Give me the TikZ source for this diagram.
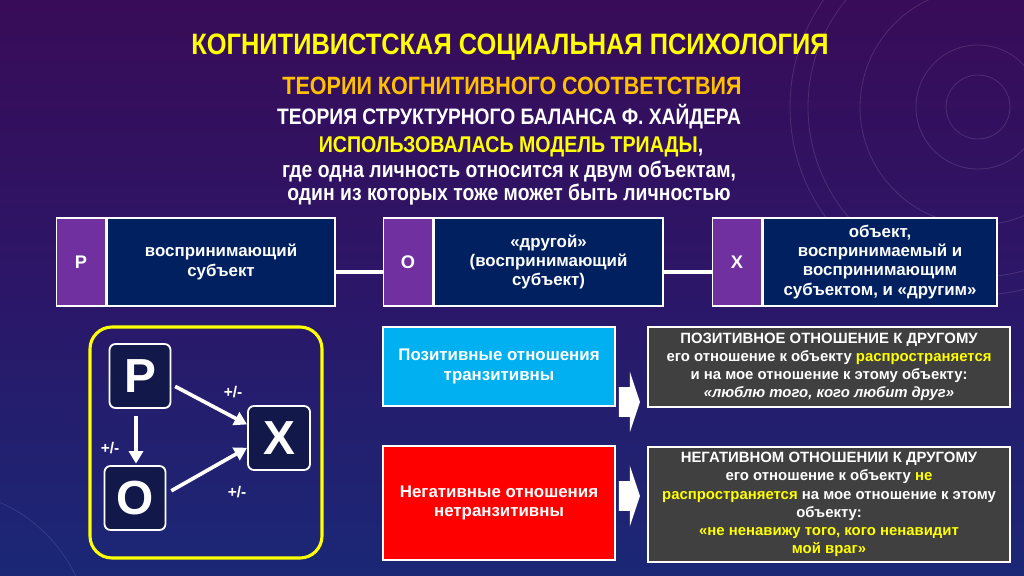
\documentclass[tikz,border=0pt]{standalone}
\usepackage{fontspec}
\setmainfont{Liberation Sans}
\newfontfamily\narrowsans[FakeStretch=0.86]{Liberation Sans}
\usetikzlibrary{positioning,arrows.meta,shapes.arrows}

\definecolor{titleyellow}{RGB}{255,255,0}
\definecolor{subyellow}{RGB}{255,192,0}
\definecolor{cellpurple}{RGB}{112,48,160}
\definecolor{cellnavy}{RGB}{0,32,96}
\definecolor{tricolor}{RGB}{18,24,74}
\definecolor{posblue}{RGB}{0,176,240}
\definecolor{negred}{RGB}{255,0,0}
\definecolor{notegray}{RGB}{64,64,64}
\definecolor{bgtop}{RGB}{56,12,88}
\definecolor{bgmid}{RGB}{44,22,104}
\definecolor{bgbottom}{RGB}{26,40,118}
\newcommand{\pxu}{0.025cm}

\begin{document}
\begin{tikzpicture}[x=0.025cm,y=-0.025cm,
	cell/.style={draw=white, line width=1.1pt, text=white, align=center, inner sep=2pt,
		font=\bfseries\fontsize{12}{13.6}\selectfont},
	lettercell/.style={cell, fill=cellpurple, minimum width=49*\pxu, minimum height=88*\pxu,
		font=\bfseries\fontsize{13}{15}\selectfont},
	textcell/.style={cell, fill=cellnavy, minimum height=88*\pxu, anchor=west},
	link/.style={white, line width=3pt},
	tribox/.style={draw=white, line width=1.3pt, fill=tricolor, rounded corners=0.15cm,
		text=white, inner sep=0pt, minimum width=61*\pxu, minimum height=64*\pxu,
		font=\bfseries\fontsize{34}{34}\selectfont},
	pm/.style={white, line width=2.6pt, -{Triangle[length=9pt,width=10pt]}},
	sign/.style={text=white, font=\bfseries\fontsize{11}{13}\selectfont},
	rel/.style={draw=white, line width=1.1pt, text=white, align=center, minimum width=232*\pxu,
		font=\bfseries\fontsize{12}{14}\selectfont},
	note/.style={draw=white, line width=1.1pt, fill=notegray, text=white, align=center,
		minimum width=362*\pxu, inner sep=2pt, font=\bfseries\fontsize{10.6}{12.9}\selectfont},
	blockarrow/.style={single arrow, fill=white, inner xsep=0pt, inner ysep=14.5*\pxu,
		single arrow head extend=15.5*\pxu, single arrow tip angle=143, minimum height=21*\pxu}
	]
	\clip (0,0) rectangle (1024,576);
	% background
	\fill[top color=bgtop, bottom color=bgbottom, middle color=bgmid] (0,0) rectangle (1024,576);
	\foreach \r in {32,62,118,170,188}
		\draw[white, opacity=0.12, line width=0.6pt] (978,107) circle (\r);
	\draw[white, opacity=0.10, line width=0.6pt] (-60,640) circle (150);
	
	% titles
	\node[text=titleyellow, font=\narrowsans\bfseries\fontsize{21}{24}\selectfont] (t1) at (510,47)
		{КОГНИТИВИСТСКАЯ СОЦИАЛЬНАЯ ПСИХОЛОГИЯ};
	\node[text=subyellow, font=\narrowsans\bfseries\fontsize{17.8}{20}\selectfont] (t2) at (512,86)
		{ТЕОРИИ КОГНИТИВНОГО СООТВЕТСТВИЯ};
	\node[text=white, font=\narrowsans\bfseries\fontsize{15.9}{18}\selectfont] (t3) at (509,117)
		{ТЕОРИЯ СТРУКТУРНОГО БАЛАНСА Ф. ХАЙДЕРА};
	\node[text=white, font=\narrowsans\bfseries\fontsize{16.2}{19}\selectfont] (t4) at (511,147)
		{\textcolor{titleyellow}{ИСПОЛЬЗОВАЛАСЬ МОДЕЛЬ ТРИАДЫ},};
	\node[text=white, align=center, font=\narrowsans\bfseries\fontsize{16}{15}\selectfont] (t5) at (509,183)
		{где одна личность относится к двум объектам,\\ один из которых тоже может быть личностью};
	
	% P -- O -- X
	\node[lettercell] (pcell) at (81,262) {P};
	\node[textcell, minimum width=228*\pxu] (ptext) at (pcell.east) {воспринимающий\\субъект};
	\node[lettercell] (ocell) at (408,262) {O};
	\node[textcell, minimum width=229*\pxu] (otext) at (ocell.east) {«другой»\\(воспринимающий\\субъект)};
	\node[lettercell] (xcell) at (737,262) {X};
	\node[textcell, minimum width=234*\pxu] (xtext) at (xcell.east)
		{объект,\\воспринимаемый и\\воспринимающим\\субъектом, и «другим»};
	\draw[link] ([yshift=-0.25cm]ptext.east) -- ([yshift=-0.25cm]ocell.west);
	\draw[link] ([yshift=-0.25cm]otext.east) -- ([yshift=-0.25cm]xcell.west);
	
	% triad
	\draw[titleyellow, line width=2.2pt, rounded corners=0.55cm] (90,327) rectangle (322,558);
	\node[tribox] (tp) at (140,376) {P};
	\node[tribox] (to) at (135,498) {O};
	\node[tribox, minimum width=62*\pxu] (tx) at (279,438) {X};
	\draw[pm, shorten <=3pt] (tp.-15) -- (tx.157);
	\draw[pm, shorten <=5pt, shorten >=1pt] (tp.south -| 136,0) -- (to.north -| 136,0);
	\draw[pm, shorten <=4pt] (to.8) -- (tx.-163);
	\node[sign] (s1) at (233,392) {+/-};
	\node[sign] (s2) at (110,448) {+/-};
	\node[sign] (s3) at (237,492) {+/-};
	
	% relations
	\node[rel, fill=posblue, minimum height=79*\pxu] (pos) at (499,366.5)
		{Позитивные отношения\\транзитивны};
	\node[rel, fill=negred, minimum height=114*\pxu] (neg) at (499,503)
		{Негативные отношения\\нетранзитивны};
	\node[blockarrow] (parr) at (627,402) {};
	\node[blockarrow] (narr) at (627,496) {};
	\node[note, minimum height=80*\pxu] (pnote) at (829,367)
		{ПОЗИТИВНОЕ ОТНОШЕНИЕ К ДРУГОМУ\\
		 его отношение к объекту \textcolor{titleyellow}{распространяется}\\
		 и на мое отношение к этому объекту:\\
		 \itshape «люблю того, кого любит друг»};
	\node[note, minimum height=115*\pxu] (nnote) at (829,504.5)
		{НЕГАТИВНОМ ОТНОШЕНИИ К ДРУГОМУ\\
		 его отношение к объекту \textcolor{titleyellow}{не}\\
		 \textcolor{titleyellow}{распространяется} на мое отношение к этому\\
		 объекту:\\
		 \textcolor{titleyellow}{«не ненавижу того, кого ненавидит}\\
		 \textcolor{titleyellow}{мой враг»}};
\end{tikzpicture}
\end{document}
